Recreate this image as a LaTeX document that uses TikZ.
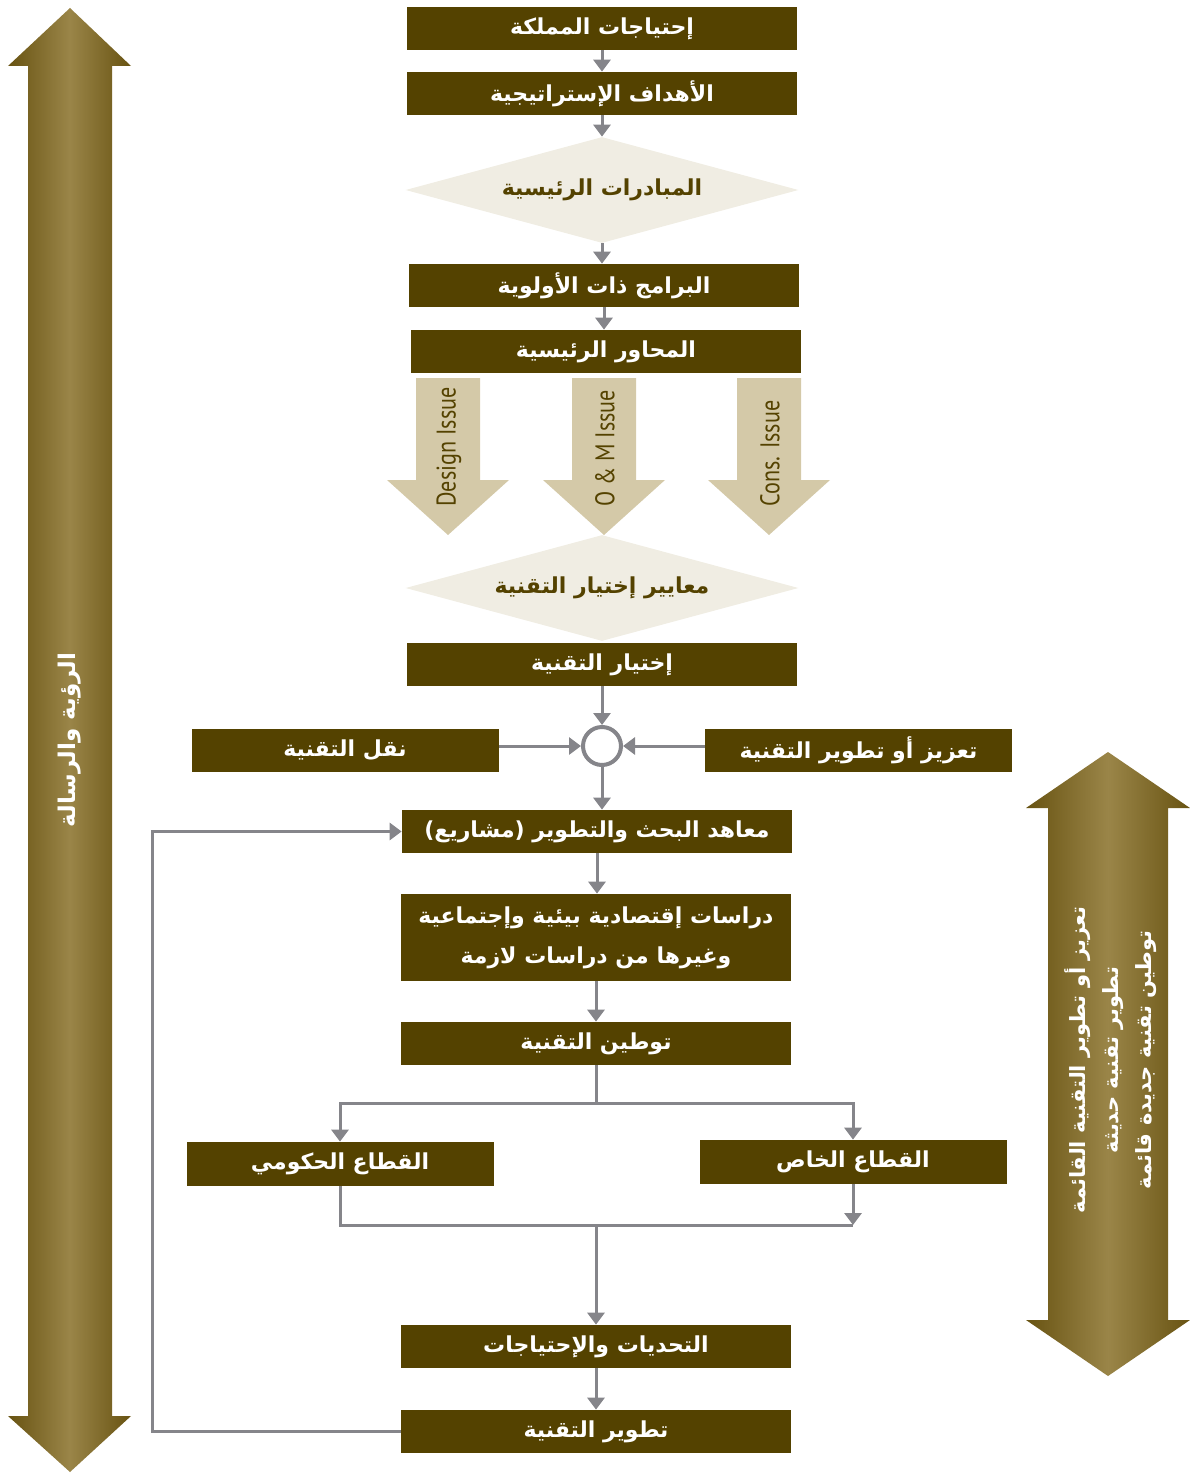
\documentclass[tikz,border=0pt]{standalone}
\usepackage{fontspec}
\newfontfamily\arabicfont[Script=Arabic]{DejaVu Sans}
\newfontfamily\latinfont[FakeStretch=0.82]{PT Sans}
\TeXXeTstate=1
\usetikzlibrary{arrows.meta,shapes.geometric}

\definecolor{boxbrown}{RGB}{84,66,0}
\definecolor{diamondfill}{RGB}{240,237,227}
\definecolor{issuefill}{RGB}{212,201,168}
\definecolor{linegray}{RGB}{133,133,138}
\definecolor{bardark}{RGB}{104,83,18}
\definecolor{barlight}{RGB}{154,133,72}

\newcommand{\artxt}[1]{\arabicfont\bfseries\beginR #1\endR}

\tikzset{every picture/.style={line width=0.75pt}}

\begin{document}
\begin{tikzpicture}[x=1pt,y=1pt,yscale=-1,xscale=1,
  stepbox/.style={fill=boxbrown, text=white, minimum width=390, minimum height=43, inner sep=0, font=\fontsize{22}{40}\selectfont},
  sidebox/.style={stepbox, minimum width=307},
  decision/.style={diamond, fill=diamondfill, text=boxbrown, minimum width=393, minimum height=106, aspect=3.7, inner sep=0, font=\fontsize{22}{26}\selectfont},
  flowline/.style={draw=linegray, line width=3},
  flow/.style={flowline, -{Triangle[width=17pt,length=12pt]}},
  bartext/.style={text=white, rotate=90, align=center}]
	\useasboundingbox (0,0) rectangle (1190,1474);

	%Shape: Double Arrow left
	\shade [left color=bardark, right color=bardark, middle color=barlight] (70,8) -- (131,66) -- (112,66) -- (112,1416) -- (131,1416) -- (70,1472) -- (8,1416) -- (28,1416) -- (28,66) -- (8,66) -- cycle ;
	%Shape: Double Arrow right
	\shade [left color=bardark, right color=bardark, middle color=barlight] (1108,752) -- (1190,808) -- (1168,808) -- (1168,1320) -- (1190,1320) -- (1108,1376) -- (1026,1320) -- (1048,1320) -- (1048,808) -- (1026,808) -- cycle ;

	% Text Node
	\node [bartext, font=\fontsize{23}{30}\selectfont] (vision) at (70,740) {\artxt{الرؤية والرسالة}};
	% Text Node
	\node [bartext, font=\fontsize{21}{33}\selectfont] (scope) at (1111,1060) {\artxt{تعزيز أو تطوير التقنية القائمة}\\ \artxt{تطوير تقنية حديثة}\\ \artxt{توطين تقنية جديدة قائمة}};

	% Main column
	\node [stepbox] (needs) at (602,28.5) {\artxt{إحتياجات المملكة}};
	\node [stepbox] (goals) at (602,93.5) {\artxt{الأهداف الإستراتيجية}};
	\node [decision] (init) at (602,190) {\artxt{المبادرات الرئيسية}};
	\node [stepbox] (prog) at (604,285.5) {\artxt{البرامج ذات الأولوية}};
	\node [stepbox] (axes) at (606,351.5) {\artxt{المحاور الرئيسية}};

	%Shape: Issue Arrows
	\foreach \cx/\lbl in {448/Design Issue, 604/O \& M Issue, 769/Cons. Issue}
	{
	\fill [issuefill] (\cx-32,378) -- (\cx+32,378) -- (\cx+32,480) -- (\cx+61,480) -- (\cx,535) -- (\cx-61,480) -- (\cx-32,480) -- cycle ;
	\node [rotate=90, anchor=west, text=boxbrown, inner sep=0, font=\latinfont\fontsize{27}{30}\selectfont] at (\cx+1,507) {\lbl};
	}

	\node [decision] (criteria) at (602,588) {\artxt{معايير إختيار التقنية}};
	\node [stepbox] (select) at (602,664.5) {\artxt{إختيار التقنية}};

	%Shape: Circle
	\node [circle, draw=linegray, line width=4, fill=white, minimum size=38, inner sep=0] (merge) at (602,746) {};
	\node [sidebox] (transfer) at (345,750.5) {\artxt{نقل التقنية}};
	\node [sidebox] (enhance) at (858.5,750.5) {\artxt{تعزيز أو تطوير التقنية}};

	\node [stepbox] (research) at (597,831.5) {\artxt{معاهد البحث والتطوير (مشاريع)}};
	\node [stepbox, minimum height=87, align=center] (studies) at (596,937.5) {\artxt{دراسات إقتصادية بيئية وإجتماعية}\\ \artxt{وغيرها من دراسات لازمة}};
	\node [stepbox] (local) at (596,1043.5) {\artxt{توطين التقنية}};
	\node [sidebox, minimum height=44] (gov) at (340,1164) {\artxt{القطاع الحكومي}};
	\node [sidebox, minimum height=44] (priv) at (853,1162) {\artxt{القطاع الخاص}};
	\node [stepbox] (challenge) at (596,1346.5) {\artxt{التحديات والإحتياجات}};
	\node [stepbox] (develop) at (596,1431.5) {\artxt{تطوير التقنية}};

	% Connectors
	\draw [flow] (needs) -- (goals) ;
	\draw [flow] (goals) -- (init) ;
	\draw [flow] (init.south) -- (init.south |- prog.north) ;
	\draw [flow] (prog.south) -- (prog.south |- axes.north) ;
	\draw [flow] (select) -- (merge) ;
	\draw [flow] (transfer.east |- merge) -- (merge.west) ;
	\draw [flow] (enhance.west |- merge) -- (merge.east) ;
	\draw [flow] (merge.south) -- (merge.south |- research.north) ;
	\draw [flow] (research.south) -- (research.south |- studies.north) ;
	\draw [flow] (studies) -- (local) ;
	\draw [flowline] (local.south) -- ++(0,38) coordinate (split) ;
	\draw [flow] (split) -| (gov.north) ;
	\draw [flow] (split) -| (priv.north) ;
	\coordinate (join) at (local.south |- 0,1225) ;
	\draw [flowline] (gov.south) -- (gov.south |- join) -- (priv.south |- join) ;
	\draw [flow] (priv.south) -- (priv.south |- join) ;
	\draw [flow] (join) -- (challenge) ;
	\draw [flow] (challenge) -- (develop) ;
	\draw [flow] (develop.west) -- ++(-248,0) |- (research.west) ;

\end{tikzpicture}
\end{document}
